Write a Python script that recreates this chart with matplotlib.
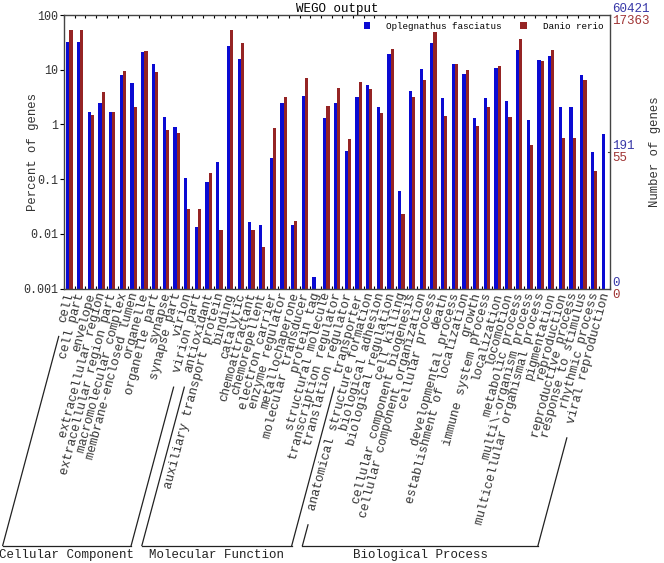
import numpy as np
import matplotlib
matplotlib.use("Agg")
import matplotlib.pyplot as plt
from matplotlib.ticker import FixedLocator, FuncFormatter, NullLocator

plt.rcParams['font.family'] = ['Liberation Mono', 'DejaVu Sans Mono']

# GO terms, grouped by ontology
cc_terms = ["cell", "cell part", "envelope", "extracellular region",
            "extracellular region part", "macromolecular complex",
            "membrane-enclosed lumen", "organelle", "organelle part",
            "synapse", "synapse part", "virion", "virion part"]
mf_terms = ["antioxidant", "auxiliary transport protein", "binding",
            "catalytic", "chemoattractant", "chemorepellent",
            "electron carrier", "enzyme regulator", "metallochaperone",
            "molecular transducer", "protein tag", "structural molecule",
            "transcription regulator", "translation regulator", "transporter"]
bp_terms = ["anatomical structure formation", "biological adhesion",
            "biological regulation", "cell killing",
            "cellular component biogenesis", "cellular component organization",
            "cellular process", "death", "developmental process",
            "establishment of localization", "growth", "immune system process",
            "localization", "locomotion", "metabolic process",
            "multi\\-organism process", "multicellular organismal process",
            "pigmentation", "reproduction", "reproductive process",
            "response to stimulus", "rhythmic process", "viral reproduction"]
group_names = ["Cellular Component", "Molecular Function", "Biological Process"]

# percent of genes
opleg = [31.6, 31.6, 1.68, 2.5, 1.66, 8.0, 5.6, 21.0, 12.9, 1.35, 0.88, 0.103, 0.0132,
         0.087, 0.204, 27.0, 15.4, 0.0165, 0.0147, 0.241, 2.5, 0.0147, 3.3, 0.00165, 1.31, 2.42, 0.33, 3.16,
         5.25, 2.05, 19.6, 0.061, 4.13, 10.3, 30.7, 3.08, 12.9, 8.3, 1.32, 3.04, 10.9, 2.67, 22.6,
         1.2, 15.0, 18.0, 2.05, 2.05, 8.1, 0.312, 0.675]
danio = [53.0, 53.0, 1.5, 3.96, 1.7, 9.45, 2.05, 21.6, 9.2, 0.78, 0.71, 0.028, 0.028,
         0.132, 0.0116, 52.4, 30.2, 0.0116, 0.0057, 0.87, 3.13, 0.0172, 6.92, 0, 2.19, 4.6, 0.54, 5.86,
         4.43, 1.63, 23.6, 0.023, 3.16, 6.47, 49.5, 1.4, 12.9, 10.0, 0.92, 2.05, 11.7, 1.38, 35.9,
         0.42, 14.2, 22.9, 0.555, 0.555, 6.56, 0.138, 0]

terms = cc_terms + mf_terms + bp_terms
spans = [(0, len(cc_terms) - 1),
         (len(cc_terms), len(cc_terms) + len(mf_terms) - 1),
         (len(cc_terms) + len(mf_terms), len(terms) - 1)]

W, H = 664, 563
blue = '#0a0ad2'
red = '#952424'
ink = '#333333'

fig = plt.figure(figsize=(W / 100, H / 100), dpi=100)
ax = fig.add_axes([64 / W, 1 - 288.5 / H, 546 / W, 273.5 / H])

x = np.arange(len(terms))
ax.bar(x - 0.14, opleg, width=0.3, color=blue, label="Oplegnathus fasciatus")
ax.bar(x + 0.16, danio, width=0.3, color=red, label="Danio rerio")
ax.set_yscale('log')
ax.set_ylim(0.001, 100)
ax.set_xlim(-0.5, len(terms) - 0.5)

ax.yaxis.set_major_locator(FixedLocator([0.001, 0.01, 0.1, 1, 10, 100]))
ax.yaxis.set_minor_locator(NullLocator())
ax.yaxis.set_major_formatter(FuncFormatter(lambda v, p: "%g" % v))
ax.tick_params(axis='y', which='major', length=3, direction='out', labelsize=8.4,
               labelcolor=ink, pad=1)
ax.xaxis.set_major_locator(FixedLocator(np.arange(len(terms) + 1) - 0.5))
ax.set_xticklabels([])
ax.tick_params(axis='x', which='major', length=2.5, direction='in', top=True, bottom=True)
for s in ax.spines.values():
    s.set_color('#444444')
    s.set_linewidth(1.0)

ax.set_ylabel("Percent of genes", fontsize=8.8, color=ink)
ax.yaxis.set_label_coords((39 - 64) / 546, 0.5)
ax.set_title("WEGO output", fontsize=9, pad=2)
ax.legend(loc='upper right', ncol=2, frameon=False, fontsize=6.7, handlelength=0.7,
          handleheight=0.7, columnspacing=2.0, handletextpad=1.7,
          bbox_to_anchor=(1.0, 1.0), borderaxespad=0.35)

# right-hand gene counts
tr = ax.get_yaxis_transform()
for yv, top_txt, bot_txt in [(100, "60421", "17363"), (0.316, "191", "55"), (0.001, "0", "0")]:
    ax.text(1.004, yv, top_txt, transform=tr, color='#3838a8', fontsize=9,
            ha='left', va='bottom', clip_on=False)
    ax.text(1.004, yv, bot_txt, transform=tr, color='#a03434', fontsize=9,
            ha='left', va='top', clip_on=False)
ax.plot([1.0, 0.996], [0.316, 0.316], transform=tr, color='#444444', lw=0.8, clip_on=False)
fig.text(655 / W, 1 - 152 / H, "Number of genes", rotation=90, fontsize=8.8,
         color=ink, ha='center', va='center')

# overlay in pixel units for slanted labels and group brackets
ov = fig.add_axes([0, 0, 1, 1])
ov.set_xlim(0, W)
ov.set_ylim(H, 0)
ov.axis('off')

ang = np.deg2rad(75)
dx, dy = -np.cos(ang), np.sin(ang)
fs = 9.0
cw = 0.6 * fs * 100 / 72
y0 = 293.0
y_base = 545.5
cx = [ax.transData.transform((i, 1))[0] + 1 for i in x]

for i, t in enumerate(terms):
    ov.text(cx[i], y0, t, rotation=75, rotation_mode='anchor', ha='right',
            va='center', fontsize=fs, color=ink)

def slant(i):
    d0 = len(terms[i]) * cw + 15
    xs, ys = cx[i] + dx * d0, y0 + dy * d0
    xe = cx[i] + dx * (y_base - y0) / dy
    ov.plot([xs, xe], [ys, y_base], color='#222222', lw=0.9)
    return xe

for (a, b), name in zip(spans, group_names):
    xl = slant(a)
    xr = slant(b)
    ov.plot([xl, xr], [y_base, y_base], color='#222222', lw=0.9)
    ov.text((xl + xr) / 2, 555, name, ha='center', va='center', fontsize=fs,
            color='#222222')

fig.savefig("out.png", dpi=100)
